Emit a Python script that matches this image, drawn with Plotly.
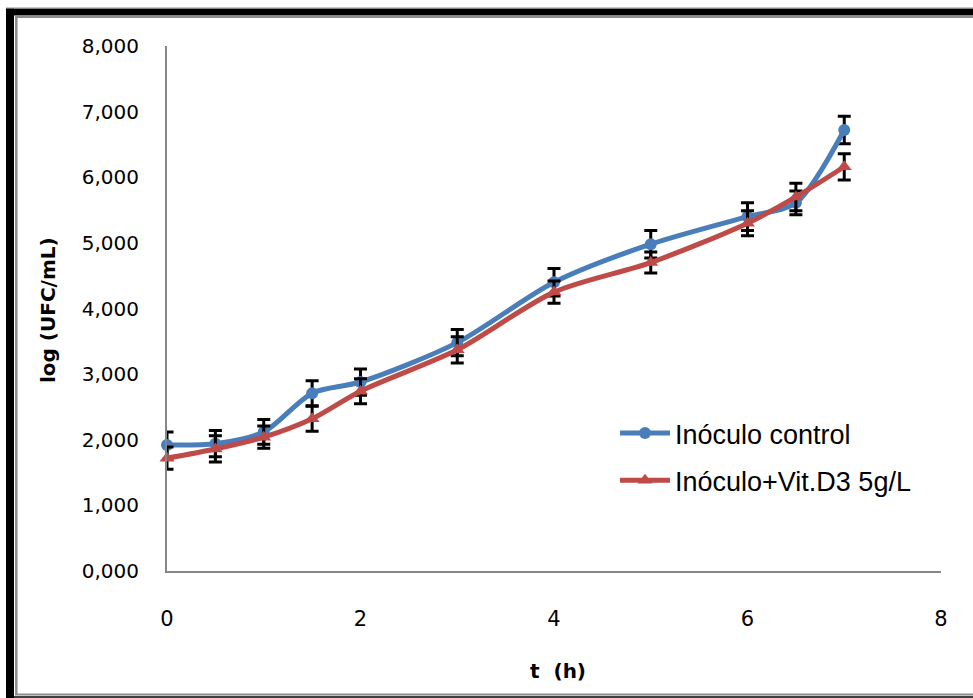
import plotly.graph_objects as go

# ---- data ----
t_hours = [0, 0.5, 1, 1.5, 2, 3, 4, 5, 6, 6.5, 7]
control = [1.92, 1.94, 2.12, 2.71, 2.88, 3.48, 4.40, 4.98, 5.40, 5.61, 6.72]
control_err = [0.20, 0.20, 0.19, 0.19, 0.20, 0.20, 0.21, 0.21, 0.21, 0.18, 0.21]
vitd3 = [1.72, 1.86, 2.04, 2.32, 2.74, 3.37, 4.25, 4.70, 5.30, 5.70, 6.16]
vitd3_err = [0.17, 0.20, 0.17, 0.19, 0.19, 0.20, 0.17, 0.16, 0.19, 0.21, 0.20]
series_names = ["Inóculo control", "Inóculo+Vit.D3 5g/L"]
x_title = "t  (h)"
y_title = "log (UFC/mL)"

W, H = 973, 698
ML, MR, MT, MB = 167, 32, 46, 127
PW, PH = W - ML - MR, H - MT - MB


def px_x(px):
    return (px - ML) / PW


def px_y(py):
    return (H - MB - py) / PH


BLUE = "#4a7ebb"
RED = "#be4b48"

fig = go.Figure()
fig.add_trace(go.Scatter(
    x=t_hours, y=control, name=series_names[0], legendgroup="a",
    mode="lines+markers", cliponaxis=False,
    line=dict(color=BLUE, width=5, shape="spline", smoothing=0.8),
    marker=dict(symbol="circle", size=12, color=BLUE),
    error_y=dict(type="data", array=control_err, visible=True,
                 color="black", thickness=3, width=6.5),
))
fig.add_trace(go.Scatter(
    x=t_hours, y=vitd3, name=series_names[1], legendgroup="b",
    mode="lines+markers", cliponaxis=False,
    line=dict(color=RED, width=5, shape="spline", smoothing=0.8),
    marker=dict(symbol="triangle-up", size=13, color=RED),
    error_y=dict(type="data", array=vitd3_err, visible=True,
                 color="black", thickness=3, width=6.5),
))

shapes = []
# outer frame: thin grey line, thick black band, inner grey line
shapes.append(dict(type="rect", xref="paper", yref="paper", layer="above",
                   x0=px_x(6), x1=px_x(980), y0=px_y(15.5), y1=px_y(8.5),
                   fillcolor="black", line=dict(width=0)))
shapes.append(dict(type="rect", xref="paper", yref="paper", layer="above",
                   x0=px_x(6), x1=px_x(14), y0=px_y(700), y1=px_y(8.5),
                   fillcolor="black", line=dict(width=0)))
shapes.append(dict(type="line", xref="paper", yref="paper", layer="above",
                   x0=px_x(6), x1=px_x(980), y0=px_y(8), y1=px_y(8),
                   line=dict(color="#8c8c8c", width=1)))
shapes.append(dict(type="line", xref="paper", yref="paper", layer="above",
                   x0=px_x(15), x1=px_x(980), y0=px_y(16.8), y1=px_y(16.8),
                   line=dict(color="#8c8c8c", width=2.5)))
shapes.append(dict(type="line", xref="paper", yref="paper", layer="above",
                   x0=px_x(16.3), x1=px_x(16.3), y0=px_y(695), y1=px_y(16),
                   line=dict(color="#8c8c8c", width=2.5)))
shapes.append(dict(type="line", xref="paper", yref="paper", layer="above",
                   x0=px_x(15), x1=px_x(980), y0=px_y(694.5), y1=px_y(694.5),
                   line=dict(color="#8c8c8c", width=2)))
shapes.append(dict(type="line", xref="paper", yref="paper", layer="above",
                   x0=px_x(6), x1=px_x(980), y0=px_y(697), y1=px_y(697),
                   line=dict(color="black", width=1.5)))

annotations = [
    dict(text=y_title, xref="paper", yref="paper", x=px_x(48), y=px_y(310),
         showarrow=False, textangle=-90, xanchor="center", yanchor="middle",
         font=dict(family="DejaVu Sans", size=20, color="black", weight="bold")),
    dict(text=x_title, xref="paper", yref="paper", x=px_x(558), y=px_y(671),
         showarrow=False, xanchor="center", yanchor="middle",
         font=dict(family="DejaVu Sans", size=20, color="black", weight="bold")),
]

fig.update_layout(
    width=W, height=H,
    margin=dict(l=ML, r=MR, t=MT, b=MB, pad=0),
    paper_bgcolor="white", plot_bgcolor="white",
    separators=", ",
    shapes=shapes, annotations=annotations,
    showlegend=True,
    legend=dict(x=px_x(615), y=px_y(409), xanchor="left", yanchor="top",
                bgcolor="rgba(0,0,0,0)", borderwidth=0,
                font=dict(family="Liberation Sans", size=27, color="black"),
                tracegroupgap=9, itemwidth=50, traceorder="grouped"),
    xaxis=dict(range=[0, 8], dtick=2, tick0=0, showgrid=False, zeroline=False,
               showline=True, linecolor="#868686", linewidth=2,
               ticks="", ticklabelstandoff=28,
               tickfont=dict(family="DejaVu Sans", size=21, color="black")),
    yaxis=dict(range=[0, 8], dtick=1, tick0=0, showgrid=False, zeroline=False,
               showline=True, linecolor="#868686", linewidth=2,
               ticks="", ticklabelstandoff=22, tickformat=".3f",
               tickfont=dict(family="DejaVu Sans", size=20, color="black")),
)

fig.write_html("out.html")
